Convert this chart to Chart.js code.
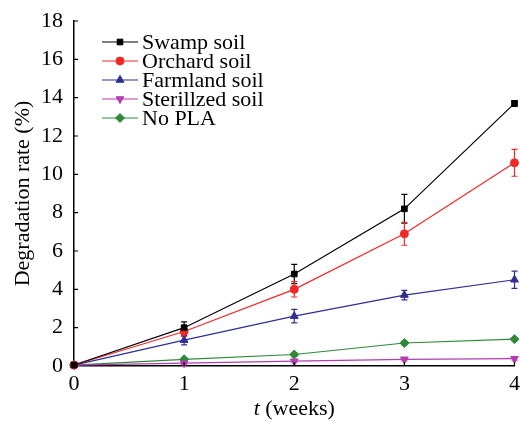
<!DOCTYPE html>
<html><head><meta charset="utf-8">
<script src="https://cdn.jsdelivr.net/npm/chart.js@4/dist/chart.umd.min.js"></script>
<style>html,body{margin:0;padding:0;background:#fff}canvas{display:block}</style>
</head><body>
<canvas id="c" width="520" height="421"></canvas>
<script>
const weeks = [0, 1, 2, 3, 4];
const seriesNames = ["Swamp soil", "Orchard soil", "Farmland soil", "Sterillzed soil", "No PLA"];
const swamp = [0.05, 2.0, 4.8, 8.2, 13.7];
const swampErr = [0, 0.3, 0.5, 0.75, 0.15];
const orchard = [0.05, 1.8, 4.0, 6.9, 10.6];
const orchardErr = [0, 0.25, 0.4, 0.6, 0.7];
const farmland = [0.05, 1.35, 2.6, 3.7, 4.5];
const farmlandErr = [0, 0.25, 0.35, 0.25, 0.45];
const sterilized = [0.05, 0.15, 0.25, 0.35, 0.38];
const sterilizedErr = [0, 0.08, 0.08, 0.08, 0.08];
const noPla = [0.05, 0.35, 0.6, 1.2, 1.4];
const noPlaErr = [0, 0.08, 0.1, 0.1, 0.08];
const yTicks = [0, 2, 4, 6, 8, 10, 12, 14, 16, 18];
const xTicks = [0, 1, 2, 3, 4];

const FONT = '"Liberation Serif", "Times New Roman", serif';

function mk(label, vals, errs, color, style, rot, radius) {
  return {
    label: label,
    data: weeks.map((w, i) => ({x: w, y: vals[i]})),
    errors: errs,
    borderColor: color,
    backgroundColor: color,
    borderWidth: 1.2,
    pointStyle: style,
    rotation: rot,
    pointRadius: radius,
    pointHoverRadius: radius,
    pointBorderWidth: 1,
    tension: 0,
    clip: false
  };
}

const datasets = [
  mk(seriesNames[0], swamp, swampErr, '#000000', 'rect', 0, 4),
  mk(seriesNames[1], orchard, orchardErr, '#f02828', 'circle', 0, 4),
  mk(seriesNames[2], farmland, farmlandErr, '#2e2e96', 'triangle', 0, 4.5),
  mk(seriesNames[3], sterilized, sterilizedErr, '#b23cb0', 'triangle', 180, 4.5),
  mk(seriesNames[4], noPla, noPlaErr, '#2e8a3a', 'rectRot', 0, 4.5)
];

const errorBars = {
  id: 'errorBars',
  beforeDatasetsDraw(chart) {
    const ctx = chart.ctx, ys = chart.scales.y, xs = chart.scales.x;
    chart.data.datasets.forEach(ds => {
      ctx.save();
      ctx.strokeStyle = ds.borderColor;
      ctx.lineWidth = 1.2;
      ds.data.forEach((p, i) => {
        const e = ds.errors[i];
        if (!e) return;
        const x = xs.getPixelForValue(p.x);
        const y1 = ys.getPixelForValue(p.y + e), y2 = ys.getPixelForValue(p.y - e);
        ctx.beginPath();
        ctx.moveTo(x, y1); ctx.lineTo(x, y2);
        ctx.moveTo(x - 3, y1); ctx.lineTo(x + 3, y1);
        ctx.moveTo(x - 3, y2); ctx.lineTo(x + 3, y2);
        ctx.stroke();
      });
      ctx.restore();
    });
  }
};

const decor = {
  id: 'decor',
  afterDraw(chart) {
    const ctx = chart.ctx, ys = chart.scales.y, xs = chart.scales.x;
    const ca = chart.chartArea;
    ctx.save();
    // inward ticks
    ctx.strokeStyle = '#000'; ctx.lineWidth = 1.2;
    ctx.beginPath();
    yTicks.forEach(v => { const y = ys.getPixelForValue(v); ctx.moveTo(ca.left, y); ctx.lineTo(ca.left + 4, y); });
    xTicks.forEach(v => { const x = xs.getPixelForValue(v); ctx.moveTo(x, ca.bottom); ctx.lineTo(x, ca.bottom - 4); });
    ctx.stroke();
    // y title
    ctx.fillStyle = '#000';
    ctx.font = '22px ' + FONT;
    ctx.textAlign = 'center'; ctx.textBaseline = 'middle';
    ctx.save();
    ctx.translate(23, (ca.top + ca.bottom) / 2);
    ctx.rotate(-Math.PI / 2);
    ctx.fillText('Degradation rate (%)', 0, 0);
    ctx.restore();
    // x title with italic t
    const cx = (ca.left + ca.right) / 2;
    ctx.font = 'italic 22px ' + FONT;
    const tW = ctx.measureText('t').width;
    ctx.font = '22px ' + FONT;
    const restTxt = ' (weeks)';
    const rW = ctx.measureText(restTxt).width;
    const start = cx - (tW + rW) / 2;
    ctx.textAlign = 'left';
    ctx.font = 'italic 22px ' + FONT;
    ctx.fillText('t', start, 409);
    ctx.font = '22px ' + FONT;
    ctx.fillText(restTxt, start + tW, 409);
    // legend
    const lx0 = 102, lx1 = 138, tx = 142, y0 = 42, dy = 19;
    chart.data.datasets.forEach((ds, i) => {
      const y = y0 + i * dy;
      ctx.strokeStyle = ds.borderColor; ctx.lineWidth = 1.2;
      ctx.beginPath(); ctx.moveTo(lx0, y); ctx.lineTo(lx1, y); ctx.stroke();
      ctx.fillStyle = ds.backgroundColor;
      ctx.strokeStyle = ds.borderColor;
      ctx.lineWidth = 1;
      Chart.helpers.drawPoint(ctx, {pointStyle: ds.pointStyle, rotation: ds.rotation, radius: ds.pointRadius, borderWidth: 1}, (lx0 + lx1) / 2, y);
      ctx.fillStyle = '#000';
      ctx.font = '22px ' + FONT;
      ctx.textAlign = 'left'; ctx.textBaseline = 'middle';
      ctx.fillText(ds.label, tx, y + 1);
    });
    ctx.restore();
  }
};

new Chart(document.getElementById('c'), {
  type: 'line',
  data: { datasets: datasets },
  options: {
    responsive: false,
    animation: false,
    devicePixelRatio: 1,
    layout: { padding: { top: 21, right: 3, left: 0, bottom: 0 } },
    plugins: { legend: { display: false }, tooltip: { enabled: false } },
    scales: {
      x: {
        type: 'linear', min: 0, max: 4,
        afterBuildTicks(s) { s.ticks = xTicks.map(v => ({value: v})); },
        afterFit(s) { s.height = 55; s.paddingLeft = 0; s.paddingRight = 0; },
        grid: { display: false, drawTicks: false },
        border: { display: true, color: '#000', width: 1.5 },
        ticks: { color: '#000', font: { family: FONT, size: 22 }, padding: 5, maxRotation: 0, autoSkip: false }
      },
      y: {
        type: 'linear', min: 0, max: 18,
        afterBuildTicks(s) { s.ticks = yTicks.map(v => ({value: v})); },
        afterFit(s) { s.width = 74; s.paddingTop = 0; s.paddingBottom = 0; },
        grid: { display: false, drawTicks: false },
        border: { display: true, color: '#000', width: 1.5 },
        ticks: { color: '#000', font: { family: FONT, size: 22 }, padding: 11, autoSkip: false }
      }
    }
  },
  plugins: [errorBars, decor]
});
</script>
</body></html>
